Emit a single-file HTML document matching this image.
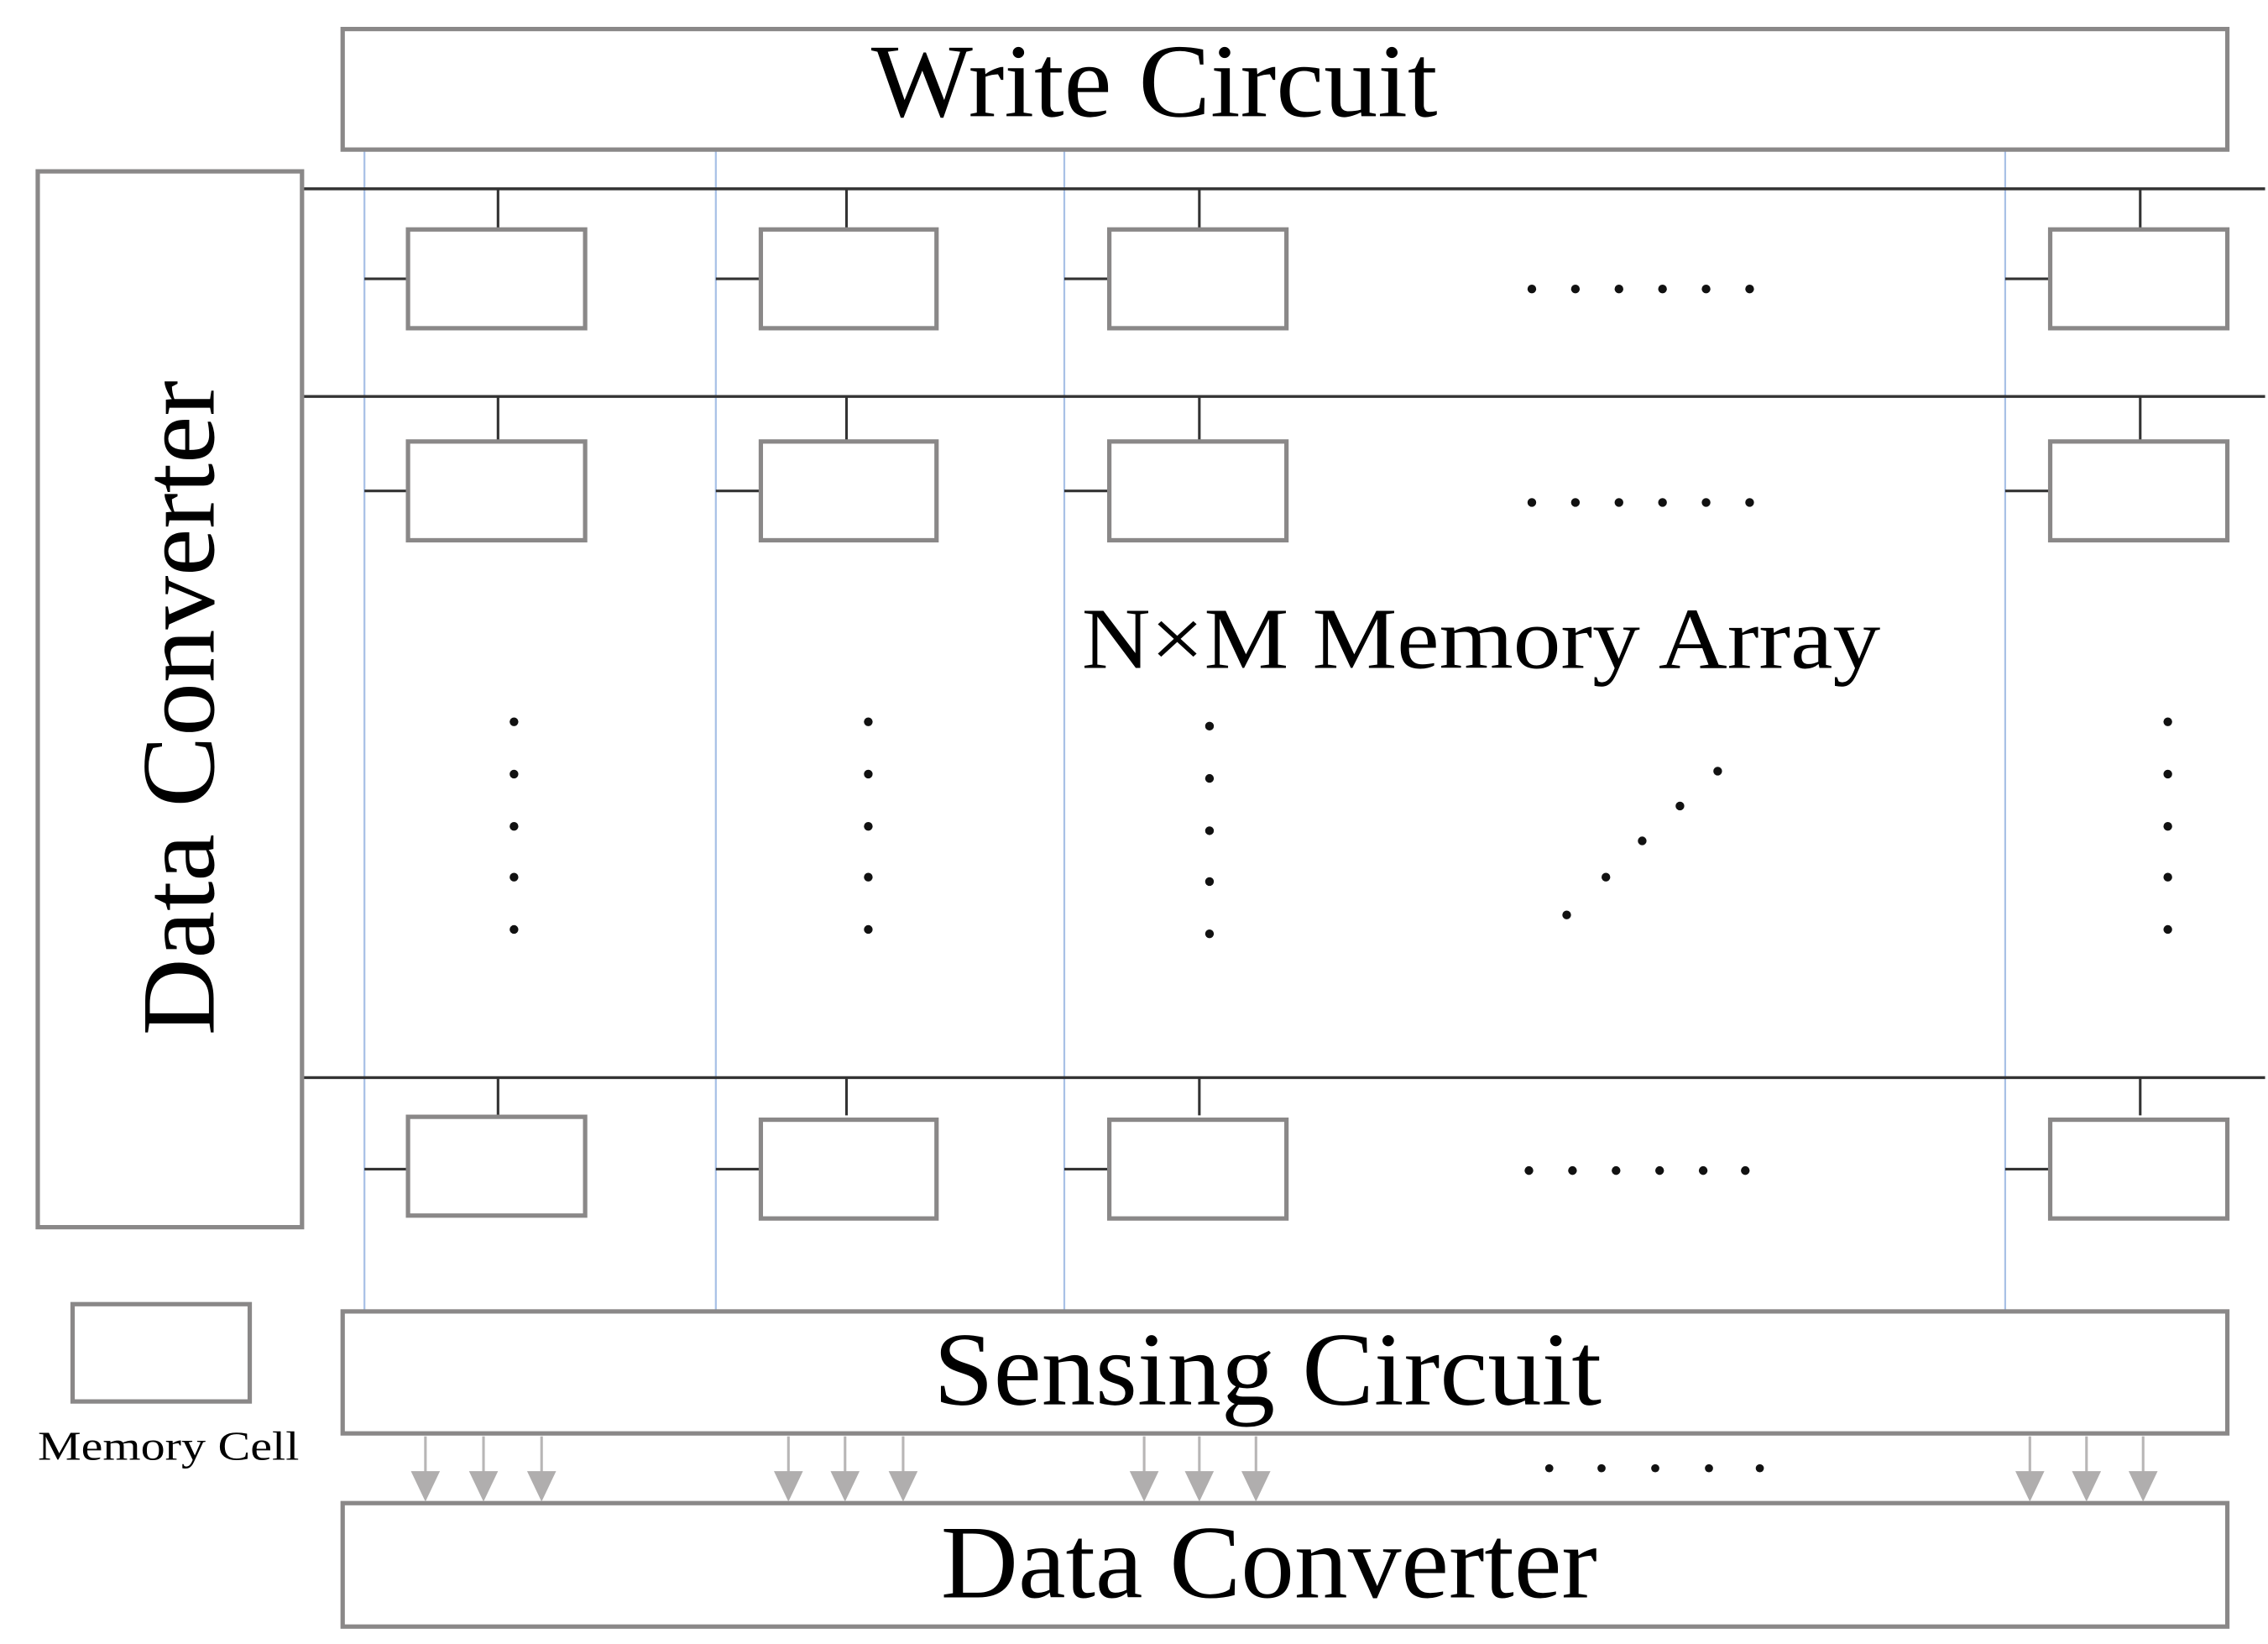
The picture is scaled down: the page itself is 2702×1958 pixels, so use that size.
<!DOCTYPE html>
<html><head><meta charset="utf-8"><style>html,body{margin:0;padding:0;background:#fff}svg{display:block}</style></head>
<body>
<svg width="2702" height="1958" viewBox="0 0 1562 1132" preserveAspectRatio="none" xmlns="http://www.w3.org/2000/svg">
<rect width="1562" height="1132" fill="#fff"/>
<g font-family="'Liberation Serif', serif" fill="#000">
<g stroke="#a9c1e6" stroke-width="1.3">
<line x1="251" y1="103" x2="251" y2="903"/><line x1="493" y1="103" x2="493" y2="903"/>
<line x1="733" y1="103" x2="733" y2="903"/><line x1="1381" y1="103" x2="1381" y2="903"/>
</g>
<g stroke="#333" stroke-width="2">
<line x1="208" y1="130" x2="1560" y2="130"/><line x1="208" y1="273" x2="1560" y2="273"/><line x1="208" y1="742" x2="1560" y2="742"/>
</g>
<g fill="#fff" stroke="#8a8888" stroke-width="3">
<rect x="236" y="20" width="1298" height="83"/>
<rect x="26" y="118" width="182" height="727"/>
<rect x="236" y="903" width="1298" height="84"/>
<rect x="236" y="1035" width="1298" height="85"/>
<rect x="50" y="898" width="122" height="67"/>
</g>
<g stroke="#333" stroke-width="1.8">
<line x1="343" y1="130" x2="343" y2="158"/><line x1="583" y1="130" x2="583" y2="158"/><line x1="826" y1="130" x2="826" y2="158"/><line x1="1474" y1="130" x2="1474" y2="158"/>
<line x1="343" y1="273" x2="343" y2="303"/><line x1="583" y1="273" x2="583" y2="303"/><line x1="826" y1="273" x2="826" y2="303"/><line x1="1474" y1="273" x2="1474" y2="303"/>
<line x1="343" y1="742" x2="343" y2="768"/><line x1="583" y1="742" x2="583" y2="768"/><line x1="826" y1="742" x2="826" y2="768"/><line x1="1474" y1="742" x2="1474" y2="768"/>
<line x1="251" y1="192" x2="281" y2="192"/><line x1="493" y1="192" x2="524" y2="192"/><line x1="733" y1="192" x2="764" y2="192"/><line x1="1381" y1="192" x2="1412" y2="192"/>
<line x1="251" y1="338" x2="281" y2="338"/><line x1="493" y1="338" x2="524" y2="338"/><line x1="733" y1="338" x2="764" y2="338"/><line x1="1381" y1="338" x2="1412" y2="338"/>
<line x1="251" y1="805" x2="281" y2="805"/><line x1="493" y1="805" x2="524" y2="805"/><line x1="733" y1="805" x2="764" y2="805"/><line x1="1381" y1="805" x2="1412" y2="805"/>
</g>
<g fill="#fff" stroke="#8a8888" stroke-width="3">
<rect x="281" y="158" width="122" height="68"/><rect x="524" y="158" width="121" height="68"/><rect x="764" y="158" width="122" height="68"/><rect x="1412" y="158" width="122" height="68"/>
<rect x="281" y="304" width="122" height="68"/><rect x="524" y="304" width="121" height="68"/><rect x="764" y="304" width="122" height="68"/><rect x="1412" y="304" width="122" height="68"/>
<rect x="281" y="769" width="122" height="68"/><rect x="524" y="771" width="121" height="68"/><rect x="764" y="771" width="122" height="68"/><rect x="1412" y="771" width="122" height="68"/>
</g>
<g fill="#111">
<circle cx="1055" cy="199" r="3"/><circle cx="1085" cy="199" r="3"/><circle cx="1115" cy="199" r="3"/><circle cx="1145" cy="199" r="3"/><circle cx="1175" cy="199" r="3"/><circle cx="1205" cy="199" r="3"/>
<circle cx="1055" cy="346" r="3"/><circle cx="1085" cy="346" r="3"/><circle cx="1115" cy="346" r="3"/><circle cx="1145" cy="346" r="3"/><circle cx="1175" cy="346" r="3"/><circle cx="1205" cy="346" r="3"/>
<circle cx="1053" cy="806" r="3"/><circle cx="1083" cy="806" r="3"/><circle cx="1113" cy="806" r="3"/><circle cx="1143" cy="806" r="3"/><circle cx="1173" cy="806" r="3"/><circle cx="1202" cy="806" r="3"/>
<circle cx="1067" cy="1011" r="2.8"/><circle cx="1103" cy="1011" r="2.8"/><circle cx="1140" cy="1011" r="2.8"/><circle cx="1177" cy="1011" r="2.8"/><circle cx="1212" cy="1011" r="2.8"/>
<circle cx="354" cy="497" r="3"/><circle cx="354" cy="533" r="3"/><circle cx="354" cy="569" r="3"/><circle cx="354" cy="604" r="3"/><circle cx="354" cy="640" r="3"/>
<circle cx="598" cy="497" r="3"/><circle cx="598" cy="533" r="3"/><circle cx="598" cy="569" r="3"/><circle cx="598" cy="604" r="3"/><circle cx="598" cy="640" r="3"/>
<circle cx="833" cy="500" r="3"/><circle cx="833" cy="536" r="3"/><circle cx="833" cy="572" r="3"/><circle cx="833" cy="607" r="3"/><circle cx="833" cy="643" r="3"/>
<circle cx="1493" cy="497" r="3"/><circle cx="1493" cy="533" r="3"/><circle cx="1493" cy="569" r="3"/><circle cx="1493" cy="604" r="3"/><circle cx="1493" cy="640" r="3"/>
<circle cx="1079" cy="630" r="3"/><circle cx="1106" cy="604" r="3"/><circle cx="1131" cy="579" r="3"/><circle cx="1157" cy="555" r="3"/><circle cx="1183" cy="531" r="3"/>
</g>
<g stroke="#b8b6b6" stroke-width="1.8">
<line x1="293" y1="989" x2="293" y2="1020"/><line x1="333" y1="989" x2="333" y2="1020"/><line x1="373" y1="989" x2="373" y2="1020"/>
<line x1="543" y1="989" x2="543" y2="1020"/><line x1="582" y1="989" x2="582" y2="1020"/><line x1="622" y1="989" x2="622" y2="1020"/>
<line x1="788" y1="989" x2="788" y2="1020"/><line x1="826" y1="989" x2="826" y2="1020"/><line x1="865" y1="989" x2="865" y2="1020"/>
<line x1="1398" y1="989" x2="1398" y2="1020"/><line x1="1437" y1="989" x2="1437" y2="1020"/><line x1="1476" y1="989" x2="1476" y2="1020"/>
</g>
<g fill="#b0aeae">
<path d="M283 1013h20l-10 21z"/><path d="M323 1013h20l-10 21z"/><path d="M363 1013h20l-10 21z"/>
<path d="M533 1013h20l-10 21z"/><path d="M572 1013h20l-10 21z"/><path d="M612 1013h20l-10 21z"/>
<path d="M778 1013h20l-10 21z"/><path d="M816 1013h20l-10 21z"/><path d="M855 1013h20l-10 21z"/>
<path d="M1388 1013h20l-10 21z"/><path d="M1427 1013h20l-10 21z"/><path d="M1466 1013h20l-10 21z"/>
</g>
<text x="600" y="80" font-size="72" textLength="390" lengthAdjust="spacingAndGlyphs">Write Circuit</text>
<text x="643" y="967" font-size="72" textLength="460" lengthAdjust="spacingAndGlyphs">Sensing Circuit</text>
<text x="648" y="1100" font-size="72" textLength="452" lengthAdjust="spacingAndGlyphs">Data Converter</text>
<text transform="translate(147,713) rotate(-90)" font-size="72" textLength="451" lengthAdjust="spacingAndGlyphs">Data Converter</text>
<text x="745" y="460" font-size="60" textLength="550" lengthAdjust="spacingAndGlyphs">N×M Memory Array</text>
<text x="26" y="1005" font-size="28" textLength="180" lengthAdjust="spacingAndGlyphs">Memory Cell</text>
</g>
</svg>
</body></html>
